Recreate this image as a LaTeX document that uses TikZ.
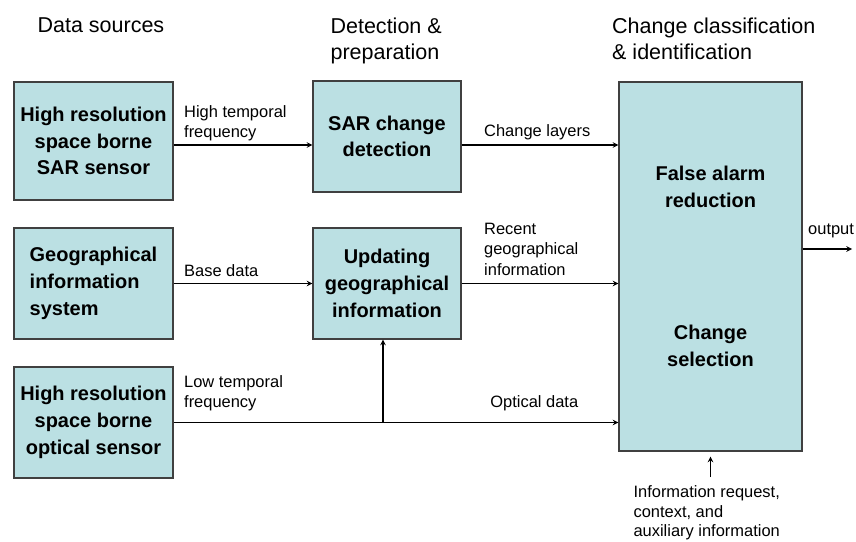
\documentclass[tikz,border=0pt]{standalone}
\usepackage{fontspec}
\setmainfont{Liberation Sans}
\definecolor{boxfill}{HTML}{BBE0E3}
\definecolor{boxline}{HTML}{404040}

\begin{document}
\begin{tikzpicture}[>=stealth,line width=0.8pt,
  box/.style={draw=boxline,fill=boxfill,line width=0.9pt,inner sep=0pt,
    font=\fontsize{14.2}{19}\selectfont\bfseries},
  head/.style={anchor=north west,align=left,inner sep=0pt,
    font=\fontsize{15.3}{18.5}\selectfont},
  lbl/.style={anchor=south west,align=left,inner sep=0pt,
    font=\fontsize{11.7}{14.5}\selectfont},
  flow/.style={->}]
  \useasboundingbox (0,0) rectangle (21.4,13.55);

  % 标题
  \node[head] (h1) at (0.925,13.125) {Data sources};
  \node[head] (h2) at (8.25,13.125) {Detection \&\\preparation};
  \node[head] (h3) at (15.29,13.125) {Change classification\\\& identification};

  % 数据源
  \node[box,minimum width=3.975cm,minimum height=2.95cm,align=center] (sar) at (2.3375,10.025)
    {High resolution\\space borne\\SAR sensor};
  \node[box,minimum width=3.975cm,minimum height=2.775cm,align=left] (gis) at (2.3375,6.4625)
    {Geographical\\information\\system};
  \node[box,minimum width=3.975cm,minimum height=2.775cm,align=center] (opt) at (2.3375,2.9875)
    {High resolution\\space borne\\optical sensor};

  % 检测与准备
  \node[box,minimum width=3.7cm,minimum height=2.775cm,align=center] (det) at (9.675,10.1375)
    {SAR change\\detection};
  \node[box,minimum width=3.7cm,minimum height=2.775cm,align=center] (upd) at (9.675,6.4625)
    {Updating\\geographical\\information};

  % 分类与识别
  \node[box,minimum width=4.575cm,minimum height=9.225cm,align=center] (cls) at (17.7625,6.8875)
    {False alarm\\reduction\\[2.64cm]Change\\selection};

  \coordinate (r1) at (0,9.925);
  \coordinate (split) at (9.575,2.9875);
  \coordinate (out) at (21.3,7.325);

  % 连线
  \draw[flow] (sar.east |- r1) -- node[lbl,pos=0,xshift=0.25cm,yshift=0.08cm] (l1)
    {High temporal\\frequency} (det.west |- r1);
  \draw[flow] (det.east |- r1) -- node[lbl,pos=0,xshift=0.55cm,yshift=0.11cm] (l2)
    {Change layers} (cls.west |- r1);
  \draw[flow] (gis.east) -- node[lbl,pos=0,xshift=0.25cm,yshift=0.16cm] (l3)
    {Base data} (upd.west);
  \draw[flow] (upd.east) -- node[lbl,pos=0,xshift=0.55cm,yshift=0.19cm] (l4)
    {Recent\\geographical\\information} (cls.west |- upd.east);
  \draw[flow] (opt.east) -- node[lbl,pos=0,xshift=0.25cm,yshift=0.275cm] (l5)
    {Low temporal\\frequency}
    node[lbl,pos=0.711,yshift=0.275cm] (l6) {Optical data} (cls.west |- opt.east);
  \draw[flow] (split) -- (upd.south -| split);
  \draw[flow] (cls.east |- out) -- node[lbl,pos=0,xshift=0.125cm,yshift=0.26cm] (l7)
    {output} (out);

  % 辅助信息
  \node[lbl,anchor=north west,font=\fontsize{11.7}{13.9}\selectfont] (info) at (15.825,1.42)
    {Information request,\\context, and\\auxiliary information};
  \draw[flow,shorten <=0.2cm,shorten >=0.125cm] (info.north -| cls.south) -- (cls.south);
\end{tikzpicture}
\end{document}
